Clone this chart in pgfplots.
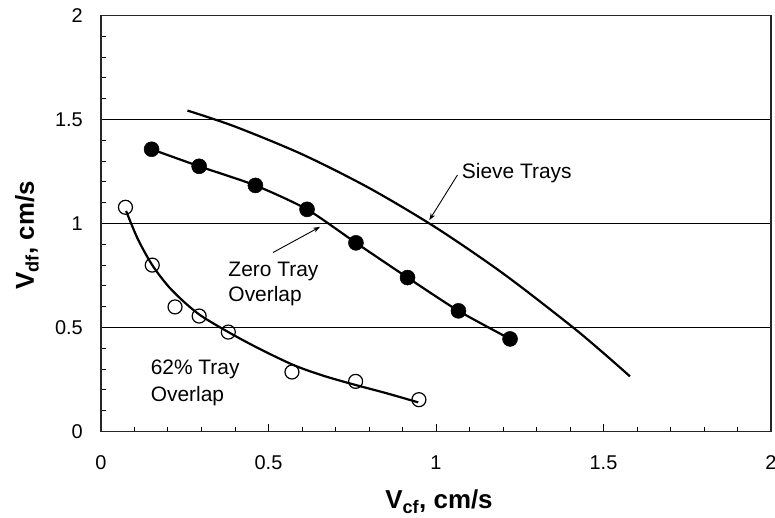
\documentclass[border=0pt]{standalone}
\usepackage{fontspec}
\setmainfont{Liberation Sans}
\usepackage{pgfplots}
\pgfplotsset{compat=1.18}
\usetikzlibrary{arrows.meta}
\begin{document}
\begin{tikzpicture}
\begin{axis}[
  at={(0,0)}, anchor=south west,
  scale only axis, width=670bp, height=416bp,
  xmin=0, xmax=2, ymin=0, ymax=2,
  xtick={0,0.5,1,1.5,2}, ytick={0,0.5,1,1.5,2},
  xticklabels={0,0.5,1,1.5,2}, yticklabels={0,0.5,1,1.5,2},
  minor x tick num=4, minor y tick num=4,
  tick align=inside, xtick pos=bottom, ytick pos=left,
  major tick length=8bp, minor tick length=5bp,
  ymajorgrids, grid style={black, line width=1bp},
  axis line style={line width=1.6bp, black!85},
  tick style={black, line width=1bp},
  /pgf/number format/assume math mode=true,
  tick label style={font=\fontsize{20}{24}\selectfont},
  yticklabel style={inner sep=0pt, anchor=east, xshift=-18bp},
  xticklabel style={inner sep=0pt, anchor=north, yshift=-24bp},
  clip=false,
]
% Sieve trays curve
\addplot[black, line width=2.2bp, smooth] coordinates {
 (0.258,1.543) (0.400,1.466) (0.600,1.333) (0.800,1.171) (1.000,0.980)
 (1.200,0.760) (1.400,0.512) (1.500,0.377) (1.579,0.265)};
% 62% overlap fitted curve
\addplot[black, line width=2.2bp, smooth] coordinates {
 (0.075,1.060) (0.110,0.925) (0.153,0.800) (0.200,0.700) (0.250,0.620)
 (0.300,0.555) (0.380,0.478) (0.470,0.400) (0.574,0.320) (0.660,0.270)
 (0.750,0.228) (0.850,0.185) (0.947,0.140)};
% 62% overlap data
\addplot[only marks, mark=o, mark size=7bp, mark options={line width=1.2bp, black}] coordinates {
 (0.073,1.078) (0.153,0.800) (0.221,0.599) (0.293,0.555) (0.380,0.478)
 (0.570,0.286) (0.760,0.241) (0.949,0.153)};
% zero overlap data with line
\addplot[black, line width=2.2bp, smooth, tension=0.4, mark=*, mark size=7.5bp, mark options={fill=black, line width=0.5bp}] coordinates {
 (0.151,1.357) (0.293,1.275) (0.461,1.183) (0.615,1.068) (0.761,0.907)
 (0.915,0.740) (1.067,0.580) (1.221,0.445)};
% annotations
\node[anchor=base west, inner sep=0pt, font=\fontsize{21}{25}\selectfont] at (axis cs:1.077,1.217) {Sieve Trays};
\draw[line width=0.9bp, -{Stealth[length=7bp,width=5bp]}] (axis cs:1.064,1.233) -- (axis cs:0.980,1.016);
\node[anchor=base west, inner sep=0pt, font=\fontsize{21}{25}\selectfont] at (axis cs:0.380,0.747) {Zero Tray};
\node[anchor=base west, inner sep=0pt, font=\fontsize{21}{25}\selectfont] at (axis cs:0.380,0.623) {Overlap};
\draw[line width=0.9bp, -{Stealth[length=7bp,width=5bp]}] (axis cs:0.514,0.861) -- (axis cs:0.654,0.984);
\node[anchor=base west, inner sep=0pt, font=\fontsize{21}{25}\selectfont] at (axis cs:0.148,0.276) {62\% Tray};
\node[anchor=base west, inner sep=0pt, font=\fontsize{21}{25}\selectfont] at (axis cs:0.148,0.143) {Overlap};
\end{axis}
\node[anchor=base, inner sep=0pt, font=\fontsize{26}{30}\selectfont\bfseries] at (338bp,-77bp) {V\textsubscript{cf}, cm/s};
\node[anchor=base, rotate=90, inner sep=0pt, font=\fontsize{26}{30}\selectfont\bfseries] at (-67bp,196bp) {V\textsubscript{df}, cm/s};
\pgfresetboundingbox
\useasboundingbox (-101bp,-86bp) rectangle (674bp,431.5bp);
\end{tikzpicture}
\end{document}
